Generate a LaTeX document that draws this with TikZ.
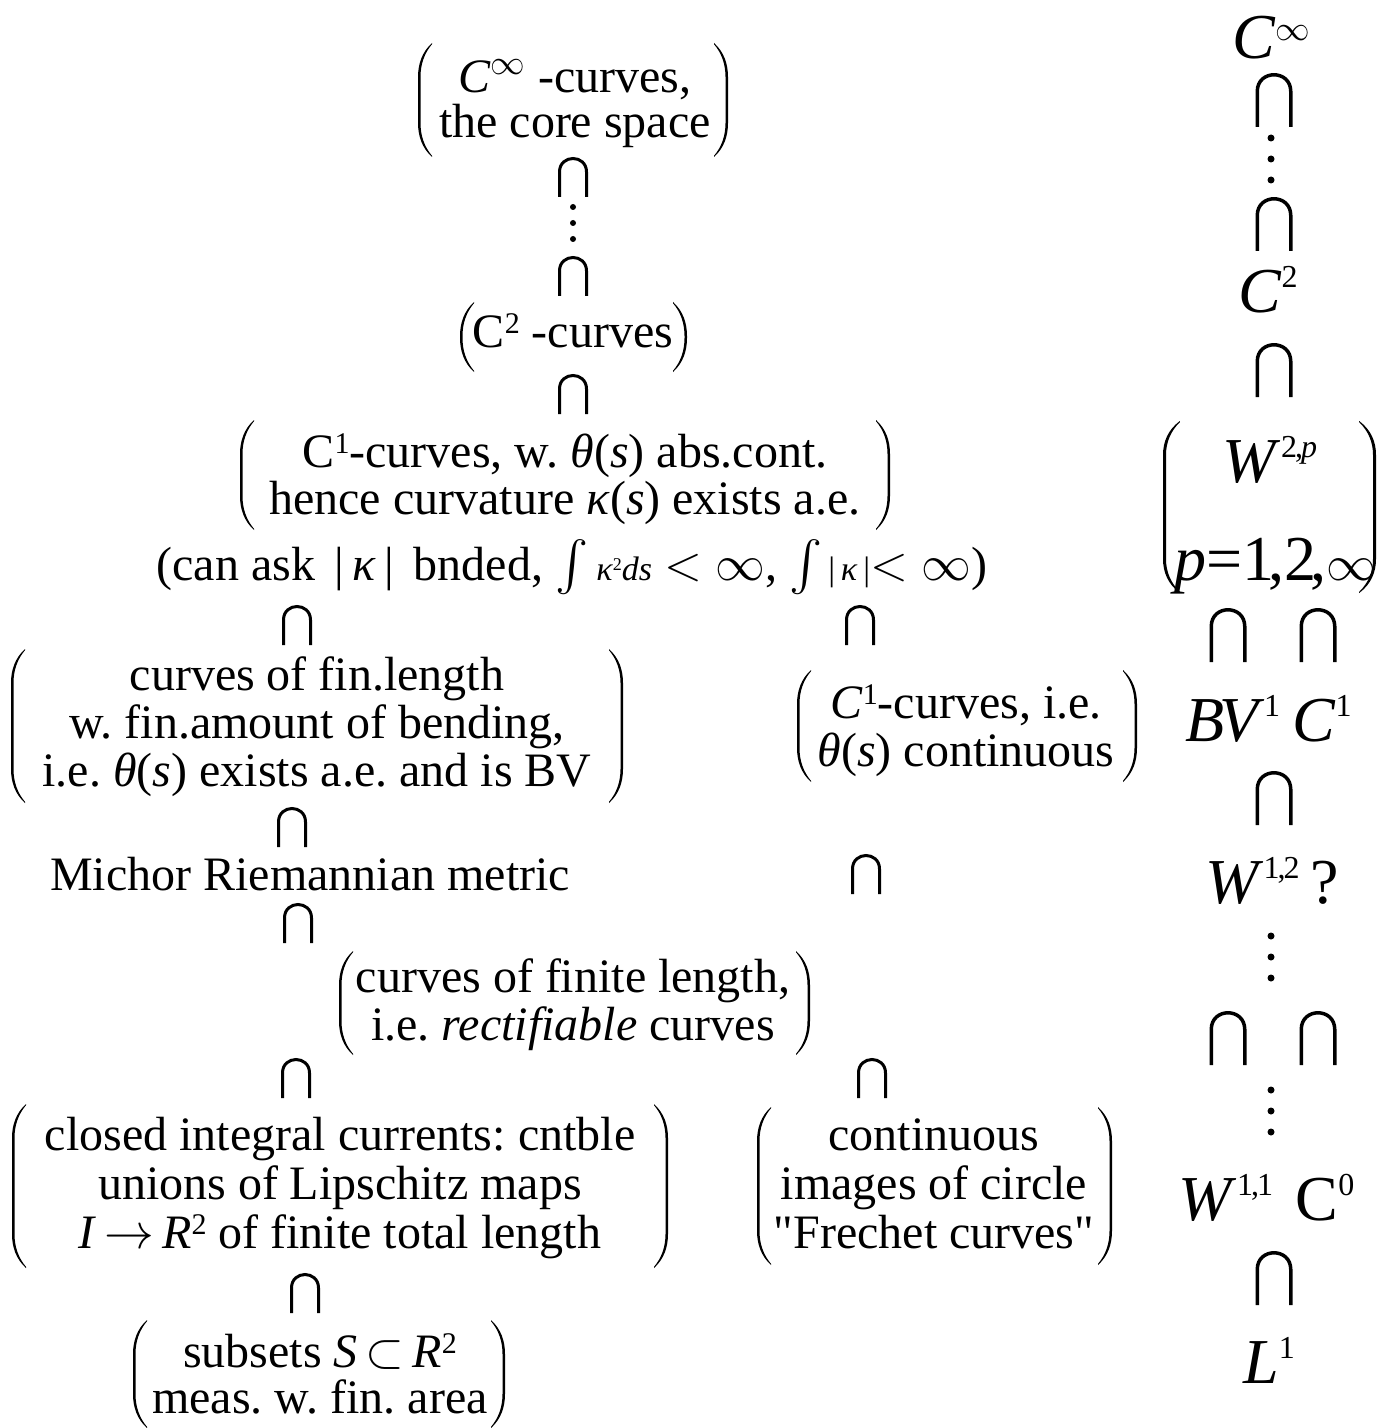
\documentclass[tikz,border=0pt]{standalone}
\usepackage{fontspec}
\usepackage{exscale}
\setmainfont{Liberation Serif}

\tikzset{every picture/.style={line width=0.75pt}}
\tikzset{
  capsign/.pic={\draw[line width=1.5pt] (-13.5,-20) -- (-13.5,5) .. controls (-13.5,23) and (13.5,23) .. (13.5,5) -- (13.5,-20);},
  bigcap/.pic={\draw[line width=1.75pt] (-16.75,-27) -- (-16.75,8.5) .. controls (-16.75,30.8) and (16.75,30.8) .. (16.75,8.5) -- (16.75,-27);},
  dotsign/.pic={\fill (0,-16) circle[radius=3] (0,0) circle[radius=3] (0,16) circle[radius=3];},
  bigdots/.pic={\fill (0,-21) circle[radius=3.5] (0,0) circle[radius=3.5] (0,21) circle[radius=3.5];},
  lpar/.pic={\fill (14,-#1) .. controls (4,-#1+9) and (0,-#1+21) .. (0,-#1+34) -- (0,#1-34) .. controls (0,#1-21) and (4,#1-9) .. (14,#1) -- (14,#1-1.2) .. controls (6.5,#1-10) and (2.5,#1-21) .. (2.5,#1-34) -- (2.5,-#1+34) .. controls (2.5,-#1+21) and (6.5,-#1+10) .. (14,-#1+1.2) -- cycle;},
  txt/.style={anchor=base,inner sep=0pt},
  rtxt/.style={anchor=base,inner sep=0pt,font=\fontsize{32}{32}\selectfont}
}
% lines of a bracketed block, #1 = distance of baselines
\newcommand{\stack}[2]{\vtop{\baselineskip=#1\lineskiplimit=-100pt\halign{\hfil##\hfil\cr#2\crcr}}}
% small raised indices
\newcommand{\lsup}[1]{\raisebox{7pt}{\fontsize{15}{15}\selectfont #1}}
\newcommand{\rsup}[1]{\raisebox{12.5pt}{\fontsize{16}{16}\selectfont #1}}
% straight double quote
\newcommand{\sq}{\XeTeXglyph\XeTeXcharglyph"22\relax}

\begin{document}
\frenchspacing
\begin{tikzpicture}[x=0.5pt,y=0.5pt,yscale=-1,xscale=1,font=\fontsize{24}{24}\selectfont]
\path[use as bounding box] (0,0) rectangle (1379,1428);

% Text Node
\draw (575,93) node [txt] (coresp) {\stack{22.5pt}{\textit{C}$^{\infty}$\ -curves,\cr the core space}};
%Shape: Parens
\pic at (418,100) {lpar=57};
\pic[xscale=-1] at (728,100) {lpar=57};
%Shape: Cap
\pic at (573,177) {capsign};
\pic at (573,223) {dotsign};
\pic at (573,276) {capsign};

% Text Node
\draw (573,348) node [txt] (ctwo) {C\lsup{2}\ -curves};
%Shape: Parens
\pic at (460,337) {lpar=35};
\pic[xscale=-1] at (687,337) {lpar=35};
%Shape: Cap
\pic at (573,394) {capsign};

% Text Node
\draw (565,467) node [txt] (cone) {\stack{23.5pt}{C\lsup{1}-curves, w. \textit{θ}(\textit{s}) abs.cont.\cr hence curvature \textit{κ}(\textit{s}) exists a.e.}};
%Shape: Parens
\pic at (240,475) {lpar=55};
\pic[xscale=-1] at (890,475) {lpar=55};

% Text Node
\draw (572,580) node [txt] (askline) {(can ask \,|\,\textit{κ}\,|\, bnded, $\int$\,{\fontsize{17}{17}\selectfont\textit{κ}\raisebox{5pt}{\fontsize{9}{9}\selectfont 2}\textit{ds}} $<\infty$, $\int${\fontsize{17}{17}\selectfont\,|\,\textit{κ}\,|}$<\infty$)};
%Shape: Cap
\pic at (297,625) {capsign};
\pic at (860,625) {capsign};

% Text Node
\draw (317,690) node [txt] (bending) {\stack{24pt}{curves of fin.length\cr w. fin.amount of bending,\cr i.e. \textit{θ}(\textit{s}) exists a.e. and is BV}};
%Shape: Parens
\pic at (11,726) {lpar=77};
\pic[xscale=-1] at (623,726) {lpar=77};

% Text Node
\draw (966,718) node [txt] (conecont) {\stack{24pt}{\textit{C}\lsup{1}-curves, i.e.\cr \textit{θ}(\textit{s}) continuous}};
%Shape: Parens
\pic at (797,726) {lpar=56};
\pic[xscale=-1] at (1137,726) {lpar=56};

%Shape: Cap
\pic at (292,827) {capsign};
% Text Node
\draw (310,890) node [txt] (michor) {Michor Riemannian metric};
%Shape: Cap
\pic at (866,874) {capsign};
\pic at (298,923) {capsign};

% Text Node
\draw (573,992) node [txt] (rectif) {\stack{24pt}{curves of finite length,\cr i.e. \textit{rectifiable} curves}};
%Shape: Parens
\pic at (339,1003) {lpar=52};
\pic[xscale=-1] at (810,1003) {lpar=52};
%Shape: Cap
\pic at (296,1078) {capsign};
\pic at (872,1078) {capsign};

% Text Node
\draw (340,1150) node [txt] (currents) {\stack{24.5pt}{closed integral currents: cntble\cr unions of Lipschitz maps\cr \textit{I}\,$\rightarrow$\,\textit{R}\lsup{2} of finite total length}};
%Shape: Parens
\pic at (12,1186) {lpar=82};
\pic[xscale=-1] at (668,1186) {lpar=82};

% Text Node
\draw (934,1150) node [txt] (frechet) {\stack{24.5pt}{continuous\cr images of circle\cr \sq Frechet curves\sq}};
%Shape: Parens
\pic at (757,1186) {lpar=79};
\pic[xscale=-1] at (1112,1186) {lpar=79};

%Shape: Cap
\pic at (305,1293) {capsign};
% Text Node
\draw (320,1367) node [txt] (subsets) {\stack{23pt}{subsets \textit{S}\,$\subset$\,\textit{R}\lsup{2}\cr meas. w. fin. area}};
%Shape: Parens
\pic at (133,1374) {lpar=54};
\pic[xscale=-1] at (505,1374) {lpar=54};

% right column
\draw (1272,59) node [rtxt] (cinf) {\textit{C}$^{\scriptscriptstyle\infty}$};
\pic at (1274,100) {bigcap};
\pic at (1271,159) {bigdots};
\pic at (1274,224) {bigcap};
\draw (1268,313) node [rtxt] (ctwor) {\textit{C}\rsup{2}};
\pic at (1274,370) {bigcap};
\draw (1270,482) node [rtxt] (wtwop) {\textit{W}\rsup{2\kern-1pt,\kern-1pt\textit{p}}};
\draw (1275,580) node [rtxt] (prange) {\textit{p}=1\kern-3pt,2\kern-3pt,{\fontsize{27}{27}\selectfont$\infty$}};
\pic[xscale=1.2] at (1163,507) {lpar=86};
\pic[xscale=-1.2] at (1376,507) {lpar=86};
\pic at (1228,635) {bigcap};
\pic at (1318,635) {bigcap};
\draw (1233,741) node [rtxt] (bvone) {\textit{B\kern-3pt V}\rsup{1}};
\draw (1322,741) node [rtxt] (coner) {\textit{C}\rsup{1}};
\pic at (1274,798) {bigcap};
\draw (1272,903) node [rtxt] (wonetwo) {\textit{W}\rsup{1\kern-1pt,\kern-1pt2}\,?};
\pic at (1271,957) {bigdots};
\pic at (1228,1038) {bigcap};
\pic at (1318,1038) {bigcap};
\pic at (1271,1111) {bigdots};
\draw (1226,1220) node [rtxt] (wone) {\textit{W}\rsup{1\kern-1pt,\kern-1pt1}};
\draw (1325,1220) node [rtxt] (czero) {C\rsup{0}};
\pic at (1274,1278) {bigcap};
\draw (1269,1383) node [rtxt] (lone) {\textit{L}\rsup{1}};

\end{tikzpicture}
\end{document}
